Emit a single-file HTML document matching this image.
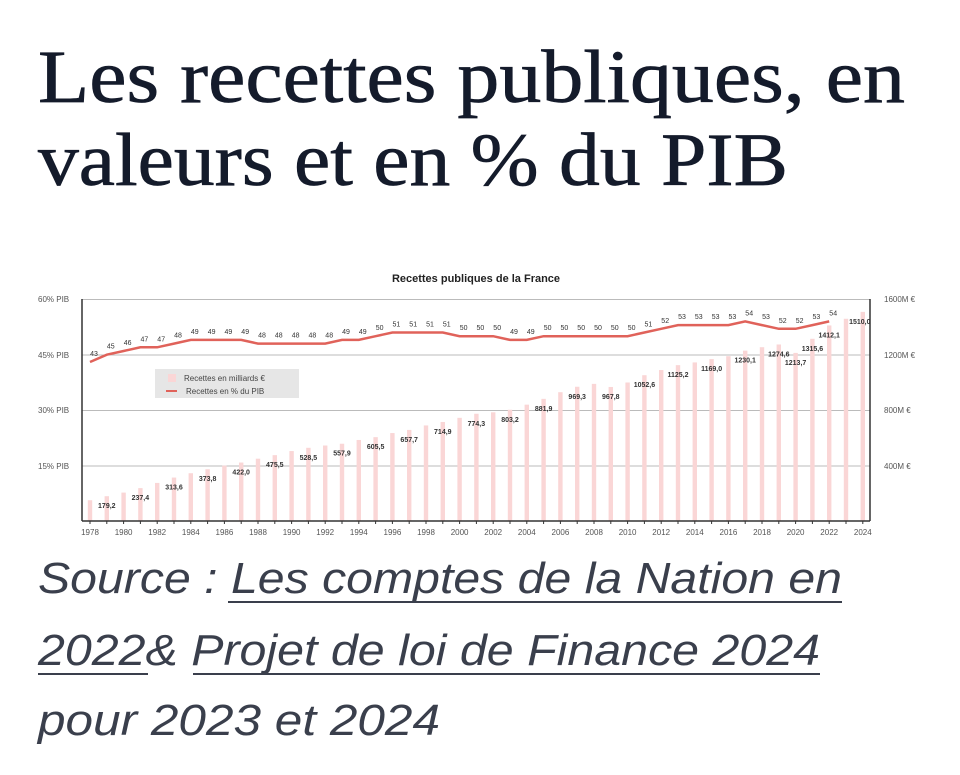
<!DOCTYPE html>
<html><head><meta charset="utf-8"><style>
html,body{margin:0;padding:0;background:#fff;}
svg{display:block;}
</style></head><body>
<svg width="960" height="775" xmlns="http://www.w3.org/2000/svg">
<rect width="960" height="775" fill="#fff"/>
<g font-family="Liberation Serif, serif" fill="#141b2b" stroke="#141b2b" stroke-width="0.7" font-size="75">
<text x="38" y="102" textLength="867" lengthAdjust="spacingAndGlyphs">Les recettes publiques, en</text>
<text x="38" y="185" textLength="750" lengthAdjust="spacingAndGlyphs">valeurs et en % du PIB</text>
</g>
<g font-family="Liberation Sans, sans-serif" font-style="italic" fill="#3a3f4c" font-size="44">
<text x="38" y="593" textLength="804" lengthAdjust="spacingAndGlyphs">Source : Les comptes de la Nation en</text>
<text x="38" y="665" textLength="782" lengthAdjust="spacingAndGlyphs">2022&amp; Projet de loi de Finance 2024</text>
<text x="38" y="735" textLength="402" lengthAdjust="spacingAndGlyphs">pour 2023 et 2024</text>
</g>
<g stroke="#3a3f4c" stroke-width="2">
<line x1="228" y1="602" x2="842" y2="602"/>
<line x1="38" y1="674" x2="148" y2="674"/>
<line x1="193" y1="674" x2="820" y2="674"/>
</g>
<g id="chart" font-family="Liberation Sans, sans-serif">
<text x="476" y="282" font-size="11" font-weight="bold" text-anchor="middle" fill="#222">Recettes publiques de la France</text>
<g stroke="#bbb" stroke-width="1">
<line x1="82" y1="299.5" x2="870" y2="299.5"/>
<line x1="82" y1="355" x2="870" y2="355"/>
<line x1="82" y1="410.5" x2="870" y2="410.5"/>
<line x1="82" y1="466" x2="870" y2="466"/>
</g>
<g font-size="8" fill="#555">
<text x="38" y="302">60% PIB</text>
<text x="38" y="358">45% PIB</text>
<text x="38" y="413">30% PIB</text>
<text x="38" y="469">15% PIB</text>
<text x="884" y="302">1600M €</text>
<text x="884" y="358">1200M €</text>
<text x="884" y="413">800M €</text>
<text x="884" y="469">400M €</text>
</g>
<g id="bars" fill="#fad6d6"></g>
<path id="line" fill="none" stroke="#e0625a" stroke-width="2.5"/>
<g id="labels" font-size="7" fill="#333" text-anchor="middle"></g>
<g id="ticks" stroke="#333" stroke-width="1"></g>
<g id="xl" font-size="8" fill="#555" text-anchor="middle"></g>
<line x1="82" y1="299" x2="82" y2="521" stroke="#333" stroke-width="1.5"/>
<line x1="870" y1="299" x2="870" y2="521" stroke="#333" stroke-width="1.5"/>
<line x1="82" y1="521" x2="870" y2="521" stroke="#333" stroke-width="1.5"/>
<rect x="155" y="369" width="144" height="29" fill="#e6e6e6"/>
<rect x="168" y="374" width="8" height="8" fill="#fad6d6"/>
<line x1="166" y1="391" x2="177" y2="391" stroke="#e0625a" stroke-width="2"/>
<text x="184" y="381" font-size="8" fill="#444">Recettes en milliards €</text>
<text x="186" y="394" font-size="8" fill="#444">Recettes en % du PIB</text>
</g>
</svg>
<script>
(function(){
var ns="http://www.w3.org/2000/svg";
var vals=[150,179.2,205,237.4,275,313.6,345,373.8,400,422,450,475.5,505,528.5,545,557.9,585,605.5,635,657.7,690,714.9,745,774.3,785,803.2,840,881.9,930,969.3,990,967.8,1000,1052.6,1090,1125.2,1145,1169,1190,1230.1,1255,1274.6,1213.7,1315.6,1412.1,1460,1510];
var pct=[43,45,46,47,47,48,49,49,49,49,48,48,48,48,48,49,49,50,51,51,51,51,50,50,50,49,49,50,50,50,50,50,50,51,52,53,53,53,53,54,53,52,52,53,54];
function X(i){return 90+i*16.8;}
function el(t,a,p,txt){var e=document.createElementNS(ns,t);for(var k in a)e.setAttribute(k,a[k]);if(txt!=null)e.textContent=txt;document.getElementById(p).appendChild(e);}
for(var i=0;i<vals.length;i++){
 var ty=521-vals[i]*0.1385;
 el("rect",{x:X(i)-2.2,y:ty,width:4.4,height:521-ty},"bars");
 el("line",{x1:X(i),y1:521,x2:X(i),y2:524},"ticks");
 if(i%2==0) el("text",{x:X(i),y:535},"xl",String(1978+i));
 var lab=(i%2==1&&i<42)||i==41||i==42||i==43||i==44||i==46;
 if(lab){ el("text",{x:X(i)+(i==46?-3:0),y:ty+12,"font-weight":"bold"},"labels",vals[i].toFixed(1).replace(".",","));}
}
var d="";
for(var i=0;i<pct.length;i++){
 var y=299.3+(60-pct[i])*3.69;
 d+=(i?"L":"M")+X(i).toFixed(1)+" "+y.toFixed(1);
 el("text",{x:X(i)+4,y:y-6},"labels",String(pct[i]));
}
document.getElementById("line").setAttribute("d",d);
})();
</script>
</body></html>
